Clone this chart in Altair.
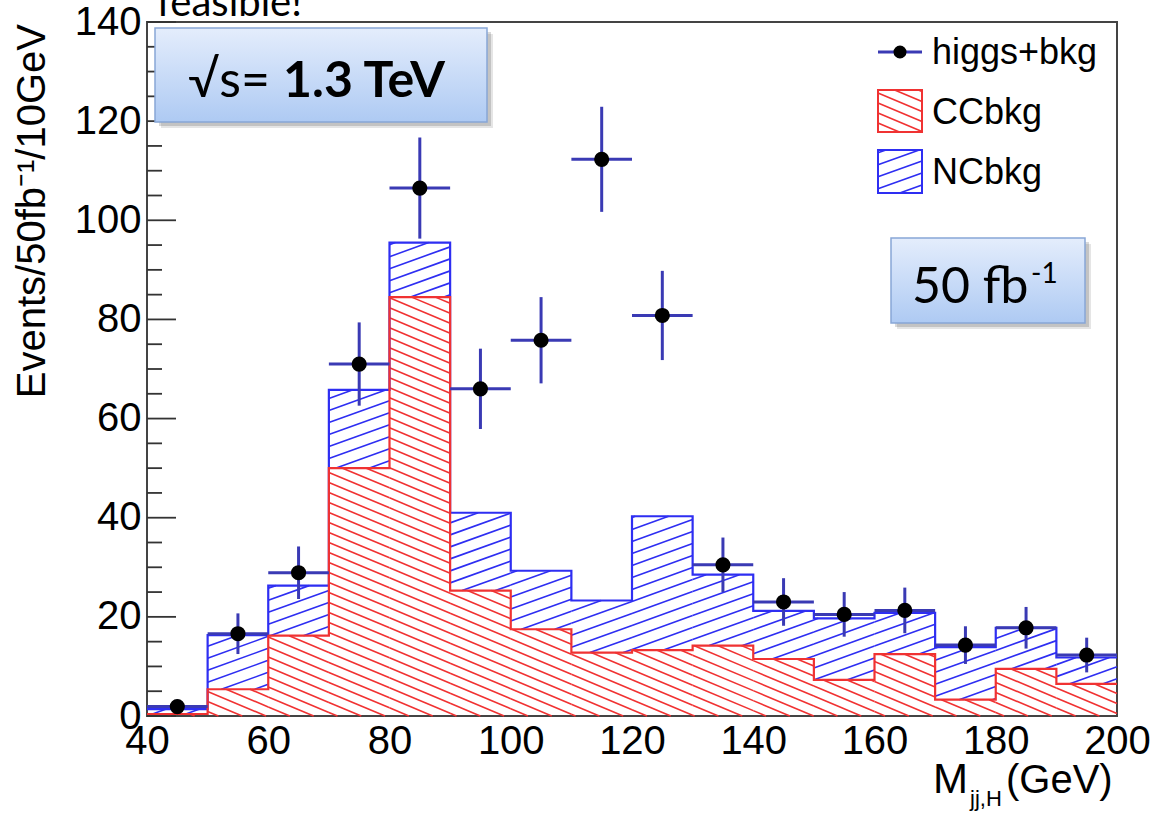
import math
import altair as alt
import pandas as pd

# ---------------- data ----------------
bin_lo = [40, 50, 60, 70, 80, 90, 100, 110, 120, 130, 140, 150, 160, 170, 180, 190]
cc_bkg = [0.4, 5.4, 16.2, 50.0, 84.5, 25.3, 17.5, 12.8, 13.3, 14.2, 11.5, 7.3, 12.5, 3.3, 9.5, 6.5]
cc_plus_nc = [1.4, 16.3, 26.3, 65.8, 95.5, 41.0, 29.3, 23.3, 40.3, 28.5, 21.2, 19.7, 20.8, 13.9, 17.8, 11.8]
pt_x = [45, 55, 65, 75, 85, 95, 105, 115, 125, 135, 145, 155, 165, 175, 185, 195]
pt_y = [1.9, 16.6, 28.9, 71.0, 106.5, 66.0, 75.8, 112.3, 80.8, 30.5, 23.0, 20.5, 21.3, 14.3, 17.8, 12.3]
pt_err = [1.4, 4.1, 5.3, 8.4, 10.2, 8.1, 8.7, 10.6, 9.0, 5.5, 4.8, 4.5, 4.6, 3.8, 4.2, 3.5]
bin_width = 10
x_ticks = [40, 60, 80, 100, 120, 140, 160, 180, 200]
y_ticks = [0, 20, 40, 60, 80, 100, 120, 140]
y_minor = [v for v in range(0, 141, 5)]

# ---------------- layout ----------------
W, H = 970, 694
PAD = {"left": 147, "top": 22, "right": 36, "bottom": 97}
X0, X1, Y0, Y1 = 40, 200, 0, 140
SX = W / (X1 - X0)
SY = H / (Y1 - Y0)

RED = "#f03232"
BLUE = "#2e2ef2"
NAVY = "#3a3ab4"
AXF = "Liberation Sans"
BOXF = "Lato"


def px2x(px):
    return X0 + (px - PAD["left"]) / SX


def px2y(py):
    return (PAD["top"] + H - py) / SY


def hatch(rects, slope_px, spacing_px):
    """Diagonal hatch segments clipped to rectangles (data coordinates)."""
    m = slope_px * SX / SY
    dc = spacing_px / SY
    segs = []
    for (x0, x1, ylo, yhi) in rects:
        if yhi - ylo <= 1e-9:
            continue
        a, b = m * (x0 - X0), m * (x1 - X0)
        cmin = ylo - max(a, b)
        cmax = yhi - min(a, b)
        for k in range(math.ceil(cmin / dc), math.floor(cmax / dc) + 1):
            c = k * dc
            xa = X0 + (ylo - c) / m
            xb = X0 + (yhi - c) / m
            lo = max(x0, min(xa, xb))
            hi = min(x1, max(xa, xb))
            if hi - lo > 1e-6:
                segs.append({"x": lo, "y": c + m * (lo - X0),
                             "x2": hi, "y2": c + m * (hi - X0)})
    return pd.DataFrame(segs)


xs = alt.Scale(domain=[X0, X1], nice=False, zero=False)
ys = alt.Scale(domain=[Y0, Y1], nice=False, zero=False)
x_axis = alt.Axis(values=x_ticks, title=None, ticks=False, domain=False, grid=False,
                  labelFont=AXF, labelFontSize=40, labelColor="black", labelPadding=5,
                  labelOverlap=False, labelFlush=False, format="d")
y_axis = alt.Axis(values=y_ticks, title=None, ticks=False, domain=False, grid=False,
                  labelFont=AXF, labelFontSize=40, labelColor="black", labelPadding=6,
                  labelOverlap=False, labelFlush=False, format="d")


def X(f):
    return alt.X(f, type="quantitative", scale=xs, axis=x_axis)


def Y(f):
    return alt.Y(f, type="quantitative", scale=ys, axis=y_axis)


one = pd.DataFrame({"a": [0]})
layers = []

# ---------------- hatched histograms ----------------
red_rects = [(lo, lo + bin_width, 0, c) for lo, c in zip(bin_lo, cc_bkg)]
blue_rects = [(lo, lo + bin_width, c, t) for lo, c, t in zip(bin_lo, cc_bkg, cc_plus_nc)]
# legend boxes (pixel positions converted to data)
leg_red = [(px2x(878), px2x(922), px2y(132), px2y(90))]
leg_blue = [(px2x(878), px2x(922), px2y(193), px2y(150))]

for rects, slope, sp, col in [(blue_rects + leg_blue, 0.36, 12, BLUE),
                              (red_rects + leg_red, -0.42, 10, RED)]:
    df = hatch(rects, slope, sp)
    layers.append(alt.Chart(df).mark_rule(color=col, strokeWidth=1.6).encode(
        x=X("x"), y=Y("y"), x2="x2", y2="y2"))

# outlines (step)
step_df = pd.DataFrame({"x": bin_lo + [X1], "cc": cc_bkg + [cc_bkg[-1]],
                        "tot": cc_plus_nc + [cc_plus_nc[-1]]})
layers.append(alt.Chart(step_df).mark_line(interpolate="step-after", color=BLUE,
                                           strokeWidth=2.2).encode(x=X("x"), y=Y("tot")))
layers.append(alt.Chart(step_df).mark_line(interpolate="step-after", color=RED,
                                           strokeWidth=2.2).encode(x=X("x"), y=Y("cc")))

# ---------------- data points with error bars ----------------
pts = pd.DataFrame({"x": pt_x, "y": pt_y, "e": pt_err})
base = alt.Chart(pts).transform_calculate(
    xl=f"datum.x - {bin_width / 2}", xh=f"datum.x + {bin_width / 2}",
    yl="datum.y - datum.e", yh="datum.y + datum.e")
layers.append(base.mark_rule(color=NAVY, strokeWidth=3).encode(x=X("xl"), x2="xh", y=Y("y")))
layers.append(base.mark_rule(color=NAVY, strokeWidth=3).encode(x=X("x"), y=Y("yl"), y2="yh"))
layers.append(base.mark_circle(color="black", opacity=1, size=230).encode(x=X("x"), y=Y("y")))

# ---------------- inward y ticks ----------------
tick_df = pd.DataFrame({"v": y_minor, "major": [v % 20 == 0 for v in y_minor]})
layers.append(alt.Chart(tick_df).transform_filter("datum.major").mark_rule(
    color="#333", strokeWidth=1.8).encode(y=Y("v"), x=alt.value(0), x2=alt.value(29)))
layers.append(alt.Chart(tick_df).transform_filter("!datum.major").mark_rule(
    color="#333", strokeWidth=1.8).encode(y=Y("v"), x=alt.value(0), x2=alt.value(15)))

# ---------------- legend ----------------
L = PAD["left"]
T = PAD["top"]
layers.append(alt.Chart(one).mark_rule(color=NAVY, strokeWidth=3).encode(
    x=alt.value(878 - L), x2=alt.value(922 - L), y=alt.value(52 - T)))
layers.append(alt.Chart(one).mark_circle(color="black", opacity=1, size=170).encode(
    x=alt.value(900 - L), y=alt.value(52 - T)))
for (y_top, y_bot, col) in [(90, 132, RED), (150, 193, BLUE)]:
    layers.append(alt.Chart(one).mark_rect(fillOpacity=0, stroke=col, strokeWidth=2).encode(
        x=alt.value(878 - L), x2=alt.value(922 - L), y=alt.value(y_top - T), y2=alt.value(y_bot - T)))
for txt, yb in [("higgs+bkg", 64), ("CCbkg", 124), ("NCbkg", 184)]:
    layers.append(alt.Chart(one).mark_text(text=txt, font=AXF, fontSize=36, align="left",
                                           baseline="alphabetic", color="black").encode(
        x=alt.value(932 - L), y=alt.value(yb - T)))

# ---------------- boxes ----------------
grad = {"gradient": "linear", "x1": 0, "y1": 0, "x2": 0, "y2": 1,
        "stops": [{"offset": 0, "color": "#e4edfc"}, {"offset": 1, "color": "#aecaf3"}]}
for (bx0, by0, bx1, by1) in [(155, 28, 487, 122), (891, 238, 1085, 323)]:
    for off, op in [(6, 0.10), (4, 0.15)]:
        layers.append(alt.Chart(one).mark_rect(color="black", opacity=op).encode(
            x=alt.value(bx0 - L + off), x2=alt.value(bx1 - L + off),
            y=alt.value(by0 - T + off), y2=alt.value(by1 - T + off)))
    layers.append(alt.Chart(one).mark_rect(fill=grad, stroke="#88a6d6", strokeWidth=1.5).encode(
        x=alt.value(bx0 - L), x2=alt.value(bx1 - L), y=alt.value(by0 - T), y2=alt.value(by1 - T)))

texts = [
    ("√s=", 188, 97, 50, "normal", BOXF),
    ("1.3 TeV", 283, 97, 50, "bold", BOXF),
    ("50 fb", 912, 303, 50, "normal", BOXF),
    ("-1", 1031, 283, 28, "normal", BOXF),
    ("feasible!", 157, 16, 40, "normal", BOXF),
]
for txt, x, y, fs, fw, fnt in texts:
    layers.append(alt.Chart(one).mark_text(text=txt, font=fnt, fontSize=fs, fontWeight=fw,
                                           align="left", baseline="alphabetic",
                                           color="black").encode(
        x=alt.value(x - L), y=alt.value(y - T)))

# ---------------- axis titles ----------------
layers.append(alt.Chart(one).mark_text(text="Events/50fb⁻¹/10GeV", font=AXF, fontSize=40,
                                       angle=270, align="right", baseline="middle",
                                       color="black").encode(
    x=alt.value(33 - L), y=alt.value(24 - T)))
for txt, x, y, fs in [("M", 933, 793, 42), ("jj,H", 970, 806, 22), ("(GeV)", 1006, 793, 40)]:
    layers.append(alt.Chart(one).mark_text(text=txt, font=AXF, fontSize=fs, align="left",
                                           baseline="alphabetic", color="black").encode(
        x=alt.value(x - L), y=alt.value(y - T)))

chart = alt.layer(*layers).properties(
    width=W, height=H, padding=PAD,
    autosize=alt.AutoSizeParams(type="none"),
    background="white",
).configure_view(stroke="#444", strokeWidth=2)

chart.save("out.html", embed_options={"renderer": "svg", "actions": False})
